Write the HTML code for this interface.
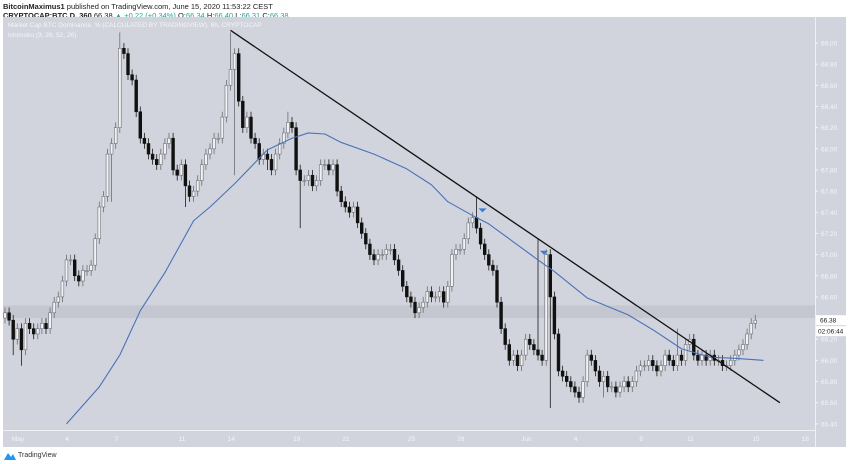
<!DOCTYPE html>
<html><head><meta charset="utf-8">
<style>
body{margin:0;background:#fff;font-family:"Liberation Sans",sans-serif;}
#wrap{position:relative;width:850px;height:464px;overflow:hidden;background:#fff;}
.hdr{position:absolute;left:3px;font-size:7.5px;color:#222;white-space:nowrap;}
</style></head>
<body>
<div id="wrap">
<div class="hdr" style="top:2px"><b>BitcoinMaximus1</b> published on TradingView.com, June 15, 2020 11:53:22 CEST</div>
<div class="hdr" style="top:11px"><b>CRYPTOCAP:BTC.D, 360</b> 66.38 <span style="color:#26a69a">▲ +0.22 (+0.34%)</span> O:<span style="color:#26a69a">66.34</span> H:<span style="color:#26a69a">66.40</span> L:<span style="color:#26a69a">66.31</span> C:<span style="color:#26a69a">66.38</span></div>
<svg id="chart" width="850" height="464" style="position:absolute;left:0;top:0"></svg>
<div class="hdr" style="top:452px;left:18px;font-size:7px;color:#333">TradingView</div>
<svg style="position:absolute;left:3px;top:451px" width="14" height="10"><path d="M1 9 L5 2 L8 6 L10 3 L13 9 Z" fill="#2196f3"/></svg>
</div>
<script>
const closes=[66.45,66.38,66.2,66.3, 66.1,66.35,66.3,66.25, 66.3,66.35,66.3,66.45, 66.55,66.6,66.75,66.95,
66.95,66.8,66.75,66.85, 66.85,66.9,67.15,67.45, 67.55,67.95,68.05,68.2, 68.95,68.9,68.7,68.65,
68.35,68.1,68.05,67.95, 67.9,67.85,67.95,68.05, 68.1,67.8,67.75,67.85, 67.65,67.55,67.6,67.7,
67.85,67.95,68.0,68.1, 68.1,68.3,68.6,68.75, 68.9,68.45,68.2,68.3, 68.1,68.05,67.9,67.95,
67.9,67.8,67.95,68.05, 68.15,68.25,68.2,67.8, 67.7,67.7,67.75,67.65, 67.7,67.85,67.85,67.8,
67.85,67.6,67.5,67.45, 67.4,67.45,67.3,67.2, 67.1,67.0,66.95,67.0, 67.0,67.05,67.05,66.95,
66.85,66.7,66.6,66.55, 66.45,66.5,66.55,66.65, 66.6,66.6,66.65,66.55, 66.7,67.0,67.05,67.05,
67.15,67.3,67.35,67.25, 67.1,67.0,66.9,66.85, 66.55,66.3,66.15,66.0, 66.05,65.95,66.05,66.2,
66.15,66.1,66.05,66.0, 67.0,66.6,66.25,65.9, 65.85,65.8,65.75,65.7, 65.65,65.8,66.05,66.0,
65.9,65.8,65.85,65.75, 65.75,65.7,65.75,65.8, 65.75,65.8,65.9,65.95, 65.95,66.0,65.95,65.9,
65.95,66.05,66.0,65.95, 66.05,66.0,66.15,66.2, 66.05,66.0,66.05,66.0, 66.05,66.0,66.0,65.95,
65.95,66.0,66.05,66.1, 66.15,66.25,66.35,66.38];
const firstOpen=66.4;
const spikeIdx=[2,4,12,22,26,28,44,55,56,64,69,72,101,115,130,133,146,164];
const spikeVal=[66.05,65.95,66.4,66.95,67.5,69.1,67.45,69.1,67.75,67.8,68.35,67.25,66.4,67.55,67.15,65.55,65.65,66.3];
const maIdx=[15,23,28,33,39,46,50,56,64,70,74,78,82,90,98,104,108,114,118,124,130,134,142,152,158,165,172,178,185];
const maVal=[65.4,65.75,66.05,66.47,66.83,67.32,67.45,67.67,67.99,68.1,68.15,68.14,68.06,67.95,67.81,67.66,67.5,67.37,67.29,67.12,66.95,66.84,66.59,66.43,66.29,66.11,66.03,66.02,66.0];
const priceTicks=[69.0,68.8,68.6,68.4,68.2,68.0,67.8,67.6,67.4,67.2,67.0,66.8,66.6,66.2,66.0,65.8,65.6,65.4];
const timeLabels=["May","4","7","11","14","18","21","25","28","Jun","4","8","11","15","18"];
const timeDays=[0,3,6,10,13,17,20,24,27,31,34,38,41,45,48];
const arrowIdx=[115,130];
const lineStart=[55,69.12];
const lineEnd=[189,65.6];

const svg=document.getElementById('chart');
const NS='http://www.w3.org/2000/svg';
const L=3,R=815,T=17,B=430;
const y=v=>43+(69.0-v)*105.8;
const x=i=>5+i*4.1;
const xd=d=>18+d*16.4;
function mk(t,a,p){const e=document.createElementNS(NS,t);for(const k in a)e.setAttribute(k,a[k]);(p||svg).appendChild(e);return e;}
let e;
e=mk('rect',{x:L,y:T,width:R-L,height:B-T,fill:'#d1d4dc'});

e=mk('rect',{x:R,y:T,width:31,height:447-T,fill:'#d1d4dc'});

e=mk('rect',{x:L,y:B,width:R-L,height:17,fill:'#d1d4dc'});

mk('line',{x1:R+0.5,y1:T,x2:R+0.5,y2:447,stroke:'#eef0f4','stroke-width':1});
mk('line',{x1:L,y1:B+0.5,x2:R,y2:B+0.5,stroke:'#eef0f4','stroke-width':1});
e=mk('rect',{x:L,y:y(66.52),width:R-L,height:y(66.40)-y(66.52),fill:'#c4c7d0'});

priceTicks.forEach(v=>{const t=mk('text',{x:R+6,y:y(v)+2.5,'font-size':6.5,fill:'#f4f5f8'});t.textContent=v.toFixed(2);

mk('line',{x1:R,x2:R+3,y1:y(v),y2:y(v),stroke:'#f4f5f8'});});
timeLabels.forEach((s,k)=>{const t=mk('text',{x:xd(timeDays[k]),y:441,'font-size':6.5,fill:'#f4f5f8','text-anchor':'middle'});t.textContent=s;
});
const g=mk('g',{});
closes.forEach((c,i)=>{const o=i?closes[i-1]:firstOpen;let hi=Math.max(o,c)+0.05,lo=Math.min(o,c)-0.05;
const s=spikeIdx.indexOf(i);if(s>=0){if(spikeVal[s]>hi)hi=spikeVal[s];else if(spikeVal[s]<lo)lo=spikeVal[s];}
const cx=x(i),up=c>=o;
const w=mk('line',{x1:cx,x2:cx,y1:y(hi),y2:y(lo),stroke:up?'#6b6e76':'#1a1a1a','stroke-width':0.8},g);

const top=y(Math.max(o,c)),h=Math.max(1,Math.abs(y(o)-y(c)));
const b=mk('rect',{x:cx-1.4,y:top,width:2.8,height:h,fill:up?'#f2f2f4':'#111',stroke:up?'#6b6e76':'#111','stroke-width':0.6},g);
});
const ma=mk('polyline',{points:maIdx.map((i,k)=>x(i)+','+y(maVal[k])).join(' '),fill:'none',stroke:'#4a72b8','stroke-width':1.1,'stroke-linejoin':'round'});

const tl=mk('line',{x1:x(lineStart[0]),y1:y(lineStart[1]),x2:x(lineEnd[0]),y2:y(lineEnd[1]),stroke:'#111','stroke-width':1.3});

arrowIdx.forEach(i=>{const s=spikeIdx.indexOf(i);const ax=x(i)+6,ay=y(spikeVal[s])+14;
const a=mk('polygon',{points:`${ax-4},${ay-2} ${ax+4},${ay-2} ${ax},${ay+2}`,fill:'#2f7fe0'});
});
const last=closes[closes.length-1];
e=mk('rect',{x:R+1,y:y(last)-5,width:30,height:10,fill:'#fff'});

let t=mk('text',{x:R+5,y:y(last)+2.5,'font-size':6.5,fill:'#222'});t.textContent=last.toFixed(2);

e=mk('rect',{x:R+1,y:y(last)+6,width:30,height:10,fill:'#fff'});

t=mk('text',{x:R+3,y:y(last)+13.5,'font-size':6.5,fill:'#222'});t.textContent='02:06:44';

t=mk('text',{x:8,y:27,'font-size':6.5,fill:'#f4f5f8'});t.textContent='Market Cap BTC Dominance, % (CALCULATED BY TRADINGVIEW), 6h, CRYPTOCAP';

t=mk('text',{x:8,y:37,'font-size':6.5,fill:'#f4f5f8'});t.textContent='Ichimoku (9, 26, 52, 26)';

</script>
</body></html>
